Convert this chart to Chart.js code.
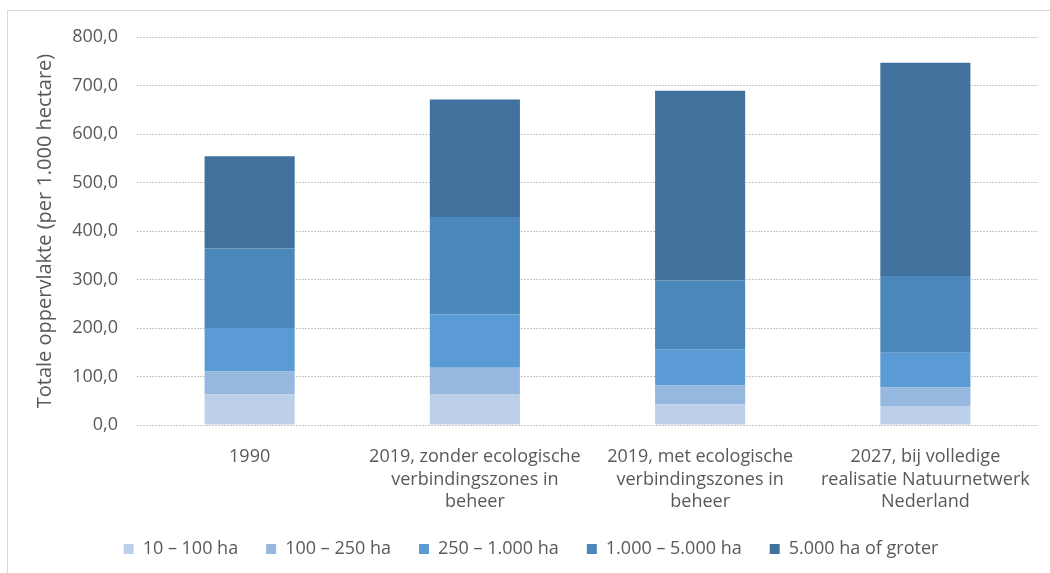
<!DOCTYPE html>
<html>
<head>
<meta charset="utf-8">
<script src="https://cdn.jsdelivr.net/npm/chart.js@4"></script>
<style>
  html, body { margin: 0; padding: 0; background: #fff; }
  #frame {
    position: absolute; left: 7px; top: 10px; width: 1100px; height: 600px;
    border-top: 1px solid #d9d9d9; border-left: 1px solid #d9d9d9;
  }
  #oppChart { position: absolute; left: 0; top: 0; }
</style>
</head>
<body>
<div id="frame"></div>
<canvas id="oppChart" width="1050" height="573"></canvas>
<script>
// categorieën en oppervlakte per grootteklasse (x 1.000 ha)
var categories = [
    ['1990'],
    ['2019, zonder ecologische', 'verbindingszones in', 'beheer'],
    ['2019, met ecologische', 'verbindingszones in', 'beheer'],
    ['2027, bij volledige', 'realisatie Natuurnetwerk', 'Nederland']
];
var sizeClasses = ['10 – 100 ha', '100 – 250 ha', '250 – 1.000 ha', '1.000 – 5.000 ha', '5.000 ha of groter'];
var ha10to100 = [63, 64, 43, 39];
var ha100to250 = [48, 54, 39, 39];
var ha250to1000 = [89, 110, 74, 71];
var ha1000to5000 = [164, 201, 142, 158];
var ha5000plus = [190, 242, 391, 440];
var yTicks = [0, 100, 200, 300, 400, 500, 600, 700, 800];

var colors = ['#bdd0e9', '#96b7de', '#5b9bd5', '#4c87bb', '#41729d'];
var seriesValues = [ha10to100, ha100to250, ha250to1000, ha1000to5000, ha5000plus];

var fontFamily = '"Open Sans", "Liberation Sans", sans-serif';
var textColor = '#595959';

var datasets = sizeClasses.map(function(label, i) {
    return {
        label: label,
        data: seriesValues[i],
        backgroundColor: colors[i],
        borderWidth: 0,
        barPercentage: 0.4,
        categoryPercentage: 1.0
    };
});

var ctx = document.getElementById('oppChart').getContext('2d');
var oppChart = new Chart(ctx, {
    type: 'bar',
    data: {
        labels: categories,
        datasets: datasets
    },
    options: {
        responsive: false,
        animation: false,
        layout: {
            padding: { left: 24, right: 12, top: 37, bottom: 5 }
        },
        plugins: {
            legend: {
                position: 'bottom',
                labels: {
                    boxWidth: 10,
                    boxHeight: 10,
                    padding: 28,
                    color: textColor,
                    font: { family: fontFamily, size: 18 }
                }
            },
            tooltip: { enabled: false }
        },
        scales: {
            x: {
                stacked: true,
                grid: { display: false },
                border: { display: false },
                ticks: {
                    color: textColor,
                    padding: 13,
                    maxRotation: 0,
                    font: { family: fontFamily, size: 18, lineHeight: 1.25 }
                },
                afterFit: function(scale) { scale.height = 87; }
            },
            y: {
                stacked: true,
                min: yTicks[0],
                max: yTicks[yTicks.length - 1],
                border: { display: false, dash: [2, 1] },
                grid: {
                    color: '#c8c8c8',
                    drawTicks: false
                },
                ticks: {
                    stepSize: 100,
                    padding: 19,
                    color: textColor,
                    font: { family: fontFamily, size: 18 },
                    callback: function(value) {
                        return value.toFixed(1).replace('.', ',');
                    }
                },
                title: {
                    display: true,
                    text: 'Totale oppervlakte (per 1.000 hectare)',
                    color: textColor,
                    padding: { top: 9, bottom: 0 },
                    font: { family: fontFamily, size: 20 }
                },
                afterFit: function(scale) { scale.width = 113; }
            }
        }
    }
});
</script>
</body>
</html>
